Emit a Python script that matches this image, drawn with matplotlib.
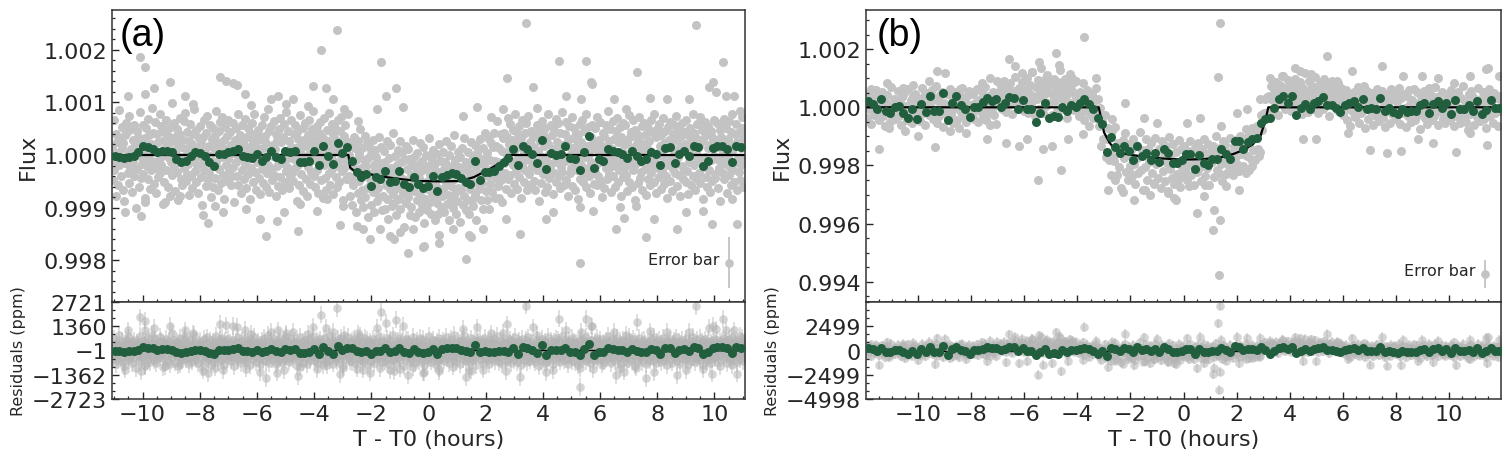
import numpy as np
import matplotlib
matplotlib.use("Agg")
import matplotlib.pyplot as plt
from matplotlib.ticker import MultipleLocator, AutoMinorLocator, FormatStrFormatter, FixedLocator

# ---------------- data (panel a) ----------------
# transit model knots: time (h) and flux offset (ppm)
model_t_a = [-11.2, -2.80, -2.74, -2.6, -2.0, -1.5, -1.0, -0.3, 0.4, 1.1, 1.6, 1.8, 2.2, 2.5, 2.68, 2.74, 11.2]
model_ppm_a = [0, 0, -240, -300, -370, -418, -456, -494, -500, -494, -418, -361, -250, -150, -76, 0, 0]

# binned (10 min) flux offsets in ppm
green_a_ppm = [-10, -44, -63, -44, -10, 51, 177, 146, 114, 51, 82, 82, 51, -76, -139, -108, -10, 51, 38, -10,
               -139, -203, 19, 19, 51, 82, 114, -10, -44, -63, 19, -108, -44, 82, -44, -76, 70, 51, 82, -139,
               -139, -108, 82, -184, 177, -10, -170, 228, 38, 146, -108, -329, -424, -361, -583, -424, -456, -298, -519, -488,
               -298, -551, -614, -424, -551,
               -633, -583, -393, -678, -424, -380, -342, -361, -443, -519, -551, -108, -469, -317, -329, -298, -203, -139, -63, 114,
               -184, 177, 114, 19, -152, 285, -266, 38, 0, 19, 165, -63, -76, -279, 63, 355, -253, -76, -108, 114,
               82, 51, 19, -63, 82, -13, -108, -76, 63, 19, -184, 127, 146, -158, 19, 82, -13, 177, 146, -203,
               -108, 127, 177, 177, 114, -139, 177, 146]
green_a_span = (-10.98, 10.93)

# unbinned residual scatter (list units, see RES_UNIT_A), evenly sampled across the window
RES_UNIT_A = 14  # ppm per list unit
resid_a = [
12,-34,5,47,-21,-8,29,-55,3,18,-40,61,-14,22,-3,-29,38,9,-47,16,-63,27,-11,44,-6,31,-25,2,-38,53,-17,8,35,-50,20,-9,41,-28,14,-72,6,33,-19,25,-44,11,58,-2,-31,19,
-12,40,-26,7,-58,23,-5,36,-15,49,-33,1,27,-46,15,-21,64,-8,30,-39,10,-18,45,-52,4,28,-30,17,-7,55,-24,39,-13,-1,32,-66,21,-36,9,48,-20,13,-43,26,-4,37,-56,18,-10,71,
-27,6,43,-16,24,-49,2,35,-23,14,-61,29,-9,50,-32,11,-40,20,-3,46,-18,57,-35,8,-26,31,-12,-54,19,3,42,-29,15,-45,28,-7,62,-22,10,-37,34,-14,5,-51,23,-2,39,-30,16,-68,
25,-11,48,-20,7,-42,30,-6,53,-34,12,-25,41,-1,-57,22,-15,36,-44,9,27,-31,60,-10,17,-48,4,33,-19,45,-38,13,-3,51,-27,20,-59,8,38,-13,-35,26,-5,47,-22,1,31,-41,14,-28,
44,-16,3,-64,21,36,-9,-29,55,-40,15,-4,27,-52,9,40,-21,18,-33,2,49,-12,-45,24,-7,37,-26,11,-60,30,-17,6,43,-36,19,-2,56,-23,12,-47,28,-10,34,-31,7,-53,22,-6,41,-19,
10,-38,52,-5,26,-43,16,-24,63,-13,32,-50,4,-20,39,-34,14,-1,46,-27,8,-56,29,-15,21,-42,35,-8,50,-30,17,-3,-48,25,-11,42,-37,6,-22,58,-16,33,-4,-45,19,-29,11,47,-25,2,
-35,28,-6,40,-18,9,-62,31,-13,22,-41,5,54,-26,15,-2,37,-49,20,-9,44,-32,12,-55,27,-16,1,48,-39,18,-23,35,-7,60,-28,14,-44,24,-3,39,-20,8,-51,30,-12,45,-34,16,-1,-58,
23,-14,50,-31,6,-47,34,-8,19,-25,57,-40,11,-3,42,-19,28,-53,4,36,-10,-30,21,-44,47,-15,9,-36,32,-5,52,-22,13,-61,26,-18,40,-1,-33,18,-9,55,-27,7,-42,29,-16,38,-48,3,
-20,46,-8,31,-55,15,-3,41,-29,24,-12,59,-37,6,-24,33,-46,17,-1,50,-32,10,-19,43,-58,22,-6,36,-14,28,-41,2,47,-23,13,-50,34,-9,25,-35,5,-17,53,-28,18,-4,40,-45,12,-26,
8,35,-43,20,-11,49,-30,3,-56,27,-16,44,-7,14,-38,61,-21,9,-34,30,-2,-49,18,-13,39,-27,6,52,-40,23,-9,36,-18,1,-64,26,-5,45,-31,15,-23,42,-12,29,-47,7,-36,20,-3,55,
-15,32,-50,11,-4,38,-26,22,-42,4,51,-19,13,-33,27,-8,46,-57,16,-24,35,-1,-39,21,-11,58,-30,9,-45,31,-17,2,43,-22,18,-53,25,-6,37,-29,12,-44,50,-14,5,-35,28,-20,40,-10,
17,-41,26,-2,54,-31,8,-18,35,-52,13,-7,47,-24,21,-37,3,62,-16,29,-45,10,-27,40,-9,19,-56,33,-13,4,44,-34,15,-22,57,-5,24,-42,11,-28,36,-1,-48,20,-15,49,-30,6,-39,27,
-6,43,-25,14,-60,30,-11,37,-20,2,48,-36,19,-14,33,-49,9,-3,52,-27,16,-40,24,-8,41,-54,12,-21,35,-1,-33,28,-10,45,-43,7,26,-17,59,-29,3,-46,21,-12,38,-24,14,-55,31,-4,
36,-19,9,-44,25,-2,50,-33,15,-27,42,-8,-51,20,-13,34,-39,6,56,-22,17,-46,28,-4,39,-30,11,-58,23,-16,47,-9,3,-37,30,-20,44,-48,13,-6,53,-26,18,-41,8,32,-15,-2,26,-35,
11,-47,24,-9,41,-21,5,-62,33,-14,19,-38,46,-3,28,-26,12,-50,37,-7,22,-43,15,55,-31,1,-19,40,-12,27,-53,8,34,-24,-1,49,-36,17,-10,43,-28,6,-45,30,-16,58,-23,13,-4,-40,
29,-8,45,-34,16,-56,21,-2,39,-25,10,-17,51,-42,23,-11,36,-48,4,30,-20,14,-59,27,-6,42,-32,18,-13,48,-37,7,-24,33,-3,55,-44,12,-18,38,-29,1,-52,25,-9,41,-21,16,-39,9,
-23,37,-13,52,-40,7,-29,20,-4,45,-35,14,-57,30,-10,26,-45,3,41,-18,11,-32,59,-26,19,-7,35,-50,8,-15,46,-28,22,-1,-43,32,-12,50,-36,17,-21,4,38,-55,24,-8,43,-30,13,-17,
40,-27,2,-49,18,-12,54,-36,25,-5,31,-44,9,-20,47,-15,34,-61,13,-3,28,-38,21,-10,52,-31,6,-23,39,-47,15,-2,44,-19,27,-54,10,-8,36,-33,19,-41,5,48,-24,-14,30,-6,56,-37,
-9,24,-52,35,-17,3,42,-30,12,-46,27,-1,-22,50,-39,16,-7,33,-28,9,-58,38,-13,21,-35,45,-4,14,-49,29,-19,6,40,-25,-11,53,-42,20,-3,35,-27,11,-56,26,-15,44,-32,8,-20,31,
15,-36,48,-22,7,-53,26,-10,37,-1,-41,19,-28,56,-14,30,-47,4,23,-33,42,-6,-25,12,51,-38,17,-9,34,-59,22,-16,45,-3,-30,28,-44,9,39,-21,14,-50,32,-7,25,-35,18,-2,47,-26,
-31,20,-5,43,-45,11,-18,34,-62,25,-8,40,-24,3,49,-33,14,-12,37,-51,22,-1,-27,46,-16,31,-40,6,55,-20,13,-37,28,-9,42,-48,17,-4,30,-23,60,-34,10,-14,36,-43,21,-6,27,-11]

# isolated points read individually: time (h), flux offset (ppm)
out_t_a = [-10.1, -9.9, -3.75, -3.2, -1.65, -0.73, -5.67, -4.57, 3.4, 9.36, 4.58, 5.5, 10.3, 2.73, 7.3, 1.32, 5.3, 3.2,
           -7.3, -7.1, -6.7, -9.05, -9.6, -10.05, -7.7, -5.3, -3.1, -2.06, -1.2, 3.67, 5.7, 9.96, 10.8, 7.6, 6.57, 8.7,
           0.38, -0.17, 1.5,
           -10.5, -9.9, -8.5, -8.25, -6.85, -6.43, -6.2, -5.5, -5.25, -5.0, -4.75, -4.2, -4.05, -3.57, -3.35, -2.94, -2.47,
           -1.8, -1.48, -1.12, -0.9,
           -10.6, -9.9, -9.2, -8.7, -7.9, -7.45, -7.2, -6.4, -5.9, -5.05, -4.5, -3.9, -3.55, -3.0, -2.5, -2.3, -1.7, -1.36,
           -1.0, -0.55,
           3.8, 4.8, 5.33, 5.73, 6.5, 6.9, 7.73, 8.35, 9.1, 9.8, 10.05, 10.4, 10.7, 10.95, 1.2, 1.7, 2.2, 2.6,
           -0.2, 0.35, 0.85, 1.43, 1.9, 2.7, 4.1, 4.35, 5.3, 5.75, 6.7, 6.85, 7.25, 7.9, 9.0, 9.6, 9.9, 10.6]
out_ppm_a = [1862, 1672, 2000, 2375, 1760, -1862, -1540, -1440, 2508, 2470, 1790, 1790, 1760, 1463, 1576, -1976, -2052, -1501,
             1480, 1410, 1330, 1390, 1270, -1160, -1290, -1250, -1320, -1600, -1600, 1290, 1390, 1380, -1310, -1560, -1400, -1400,
             -1670, -1730, -1560,
             1127, 1159, 1127, 966, 1374, 1159, 950, 1064, 1127, 966, 1064, 938, 1311, 1279, 1064, 874, 652,
             874, 1127, 1279, 906,
             -1083, -895, -895, -770, -1140, -966, -1090, -1026, -1216, -1090, -931, -1060, -836, -966, -1343, -1406, -1406, -1532,
             -1469, -1406,
             893, 1127, 1064, 1349, 1064, 874, 1083, 1064, 1064, 1286, 1190, 1127, 1127, 716, 741, 906, 716, 874,
             -1748, -1520, -1406, -1520, -1406, -1216, -1216, -1089, -995, -1060, -995, -1193, -966, -1216, -1089, -1060, -1311, -836]
err_a_ppm = 484

# ---------------- data (panel b) ----------------
model_t_b = [-12.1, -3.2, -3.1, -3.0, -2.8, -2.6, -2.2, -1.6, -0.8, 0.0, 0.8, 1.4, 1.9, 2.3, 2.6, 2.9, 3.1, 3.2, 12.1]
model_ppm_b = [0, 0, -400, -860, -1200, -1450, -1600, -1690, -1760, -1800, -1780, -1720, -1600, -1450, -1280, -1000, -410, 0, 0]

green_b_ppm = [219, 104, -69, 276, -127, -184, 23, 46, -184, -357, -46, -391, 104, -161, 391, -127, -127, 483, -437, 138,
               391, 69, -69, -322, 23, 23, 184, 334, 207, 276, 23, 161, 368, 322, -69, 253, -69, -46, -495, -184,
               161, -357, -299, -322, 23, -127, 69, 23, 138, 299, 104, -69, -357, -587, -1541, -1012, -1357, -1587, -1334, -1506,
               -1817, -1334, -1679, -1564, -1817, -1587, -1886, -1449, -1587, -1932,
               -1932, -1817, -1622, -1622, -2116, -1656, -1909, -1967, -1794, -1771, -1449, -1622, -1794, -1161, -1161, -1449,
               -1196, -1104, -1047, -529, -414, -357, -12, 299, 391, 161, 391, -276, -12, 104, -46, 161,
               219, 368, 69, 69, -12, -161, 69, 138, 219, 23, 299, -69, -12, -69, 334, -127, -12, -161, -242, -46,
               -161, -127, -127, 69, 161, -184, 104, 219, -12, 138, -242, 253, -69, -69, 69, -127, 219, -242, -100, 253,
               -12, -12]
green_b_span = (-11.9, 11.92)

RES_UNIT_B = 15  # ppm per list unit
resid_b = [
8,-25,31,-4,15,-38,22,6,-17,40,-9,27,-30,12,-2,35,-21,18,-44,9,29,-13,3,-33,46,-7,20,-26,14,-1,37,-19,10,-41,24,-5,33,-15,2,-28,42,-11,16,-36,25,-3,30,-22,11,-8,
19,-31,7,44,-14,26,-40,5,33,-18,13,-2,39,-27,21,-9,48,-35,15,-20,28,-6,36,-45,10,-12,31,-24,4,41,-16,23,-37,17,-1,34,-29,9,-47,27,-10,45,-19,12,-33,25,-4,38,-23,6,
-15,30,-26,11,-3,43,-34,16,-8,35,-21,2,47,-30,19,-12,27,-41,8,-5,36,-18,24,-38,13,35,12,48,-4,30,61,18,-10,42,27,6,55,22,-15,38,14,70,29,-2,45,9,33,57,20,-8,
40,15,68,-12,33,52,7,81,26,-20,47,19,62,-5,35,90,24,-14,51,30,3,73,38,11,56,-18,29,66,14,44,-9,58,21,85,31,-3,49,17,64,27,-25,42,76,10,37,55,-7,28,60,16,
12,-20,35,4,-11,28,-30,17,40,-6,22,-15,9,31,-24,14,-3,45,-9,20,-38,15,-62,8,-21,43,-50,-3,26,-44,11,-70,34,-17,-29,52,-8,-55,19,-36,4,-81,30,-12,47,-41,-2,-58,23,-27,
10,-49,37,-19,-65,25,-6,-40,55,-31,14,-77,3,-24,42,-53,18,-11,-86,33,-36,7,-60,46,-15,-45,21,-4,-68,39,-28,12,-52,29,-9,-74,50,-22,1,-43,35,-57,16,-33,-5,44,-63,24,-18,-38,
31,-26,8,-47,20,-12,42,-35,5,-58,27,-3,-30,38,-19,14,-51,24,-7,45,-40,11,-22,33,-61,17,-9,29,-44,2,50,-28,13,-36,21,-15,-55,36,-6,25,-42,9,-24,40,-33,4,-49,18,-11,30,
-27,12,-45,35,-8,22,-38,3,46,-19,27,-54,10,-31,38,-14,19,-42,6,32,-23,15,-36,41,-2,30,55,8,41,-6,27,68,19,-12,46,33,2,59,24,-18,37,50,11,72,28,-4,44,16,63,21,
35,-8,52,25,10,66,-2,40,18,57,31,-15,45,22,78,7,38,-10,60,29,13,49,-5,34,70,20,-12,43,56,15,36,-3,64,26,9,51,30,-20,47,17,61,4,39,24,-7,55,28,12,44,33,
-18,25,-7,40,-30,14,3,-42,29,-11,36,-23,8,-2,47,-35,19,-14,31,-5,22,-48,11,38,-26,16,-9,33,-40,6,27,-19,43,-3,-31,20,-12,37,-24,9,-45,28,-1,15,-36,41,-16,24,-8,34,
-27,12,-4,45,-38,21,-13,30,-2,-46,25,-20,39,7,-33,16,-9,42,-28,3,35,-17,11,-49,27,-6,38,-24,18,-39,5,44,-14,29,-30,10,-21,47,-3,23,-41,14,-10,36,-26,8,-35,31,-15,19,
4,-29,40,-12,26,-44,9,-20,34,-1,-37,22,-8,48,-25,15,-33,7,-52,30,-16,38,-6,24,-40,12,-23,45,-10,-31,18,2,36,-27,14,-47,28,-5,41,-19,10,-35,32,-14,21,-3,-42,26,-9,17]

out_t_b = [-11.5, -9.36, -5.5, -4.64, -3.74, -6.6, -5.47, -4.8, -9.0, -9.6, -2.84, -2.3, -1.85, -2.2,
           1.36, 1.3, 1.34, 1.1, 1.38, 1.15, 0.5, -0.3, 5.42, 6.37, 7.5, 11.5, 10.3, 7.05, 8.2, 11.45,
           -11.8, -11.2, -10.6, -10.2, -9.3, -8.45, -7.6, -7.3, -7.05, -6.34, -6.1, -5.7, -5.2, -4.7, -4.45, -4.2, -3.8, -3.3,
           -11.1, -10.5, -10.0, -8.8, -8.2, -7.4, -6.7, -6.2, -5.9, -5.3, -4.95, -4.35, -3.8, -3.55,
           -2.7, -1.5, -1.0, 0.13, 0.64, 1.4, 2.0, 2.4, 2.9,
           -2.6, -2.0, -1.45, -1.1, -0.6, -0.37, -0.2, 0.2, 0.77, 0.8, 1.6, 1.65, 2.1, 2.35, 2.6, 2.86,
           3.3, 3.7, 4.2, 4.4, 4.8, 5.8, 6.8, 8.3, 9.0, 9.6, 10.2, 10.8, 11.4, 11.9,
           4.5, 5.0, 6.2, 7.67, 8.84, 9.4, 10.8]
out_ppm_b = [-1449, -1380, -2508, -2139, 2415, 1656, 1563, 1863, 1173, 907, -2829, -2922, -3174, 138,
             2898, 1058, -5760, -4209, -3888, -3519, -3623, -3174, 1748, 1253, 1426, 1368, -1541, -1472, -1506, -1311,
             621, 851, 667, 782, 1253, 621, 851, 1023, 897, 1415, 1173, 1230, 1023, 1449, 851, 1023, 851, 1023,
             -702, -817, -989, -817, -874, -1104, -1219, -1334, -1104, -1449, -1334, -1104, -931, -644,
             -414, -357, -529, -529, -357, -644, -184, -69, 276,
             -2484, -2254, -2829, -2599, -2944, -3116, -2484, -2714, -3059, -2656, -2714, -2254, -2829, -2254, -2024, -1679,
             736, 1081, 1368, 1253, 1138, 897, 736, 1081, 1081, 1023, 851, 1081, 1311, 1081,
             -1104, -1104, -874, -1564, -1104, -1219, -874]
err_b_ppm = 480

# ---------------- style ----------------
GRAY = "#c3c3c3"
GRAY_R = "#b4b4b4"
GREEN = "#215e3d"
TXT = "#262626"
W, H = 1510, 464
S_PT = 42

plt.rcParams.update({
    "font.family": ["DejaVu Sans"],
    "text.color": TXT, "axes.labelcolor": TXT,
    "xtick.color": TXT, "ytick.color": TXT,
    "axes.edgecolor": "#333333", "axes.linewidth": 1.1,
})

fig = plt.figure(figsize=(W / 100, H / 100), dpi=100)


def style(ax, labelbottom):
    ax.tick_params(which="both", direction="in", bottom=True, top=False, left=True, right=False,
                   labelbottom=labelbottom, labelsize=16)
    ax.tick_params(which="major", length=5, width=1)
    ax.tick_params(which="minor", length=2.5, width=0.9)


def panel(left, width, xlim, model_t, model_ppm, green_ppm, green_span, resid, unit, out_t, out_ppm, err_ppm,
          ylim, ymaj, ymin, rlim, rticks, tag, tagx, ey):
    axm = fig.add_axes([left / W, (H - 303) / H, width / W, 292 / H])
    axr = fig.add_axes([left / W, (H - 400) / H, width / W, 97 / H])
    mt = np.array(model_t, float)
    mp = np.array(model_ppm, float)

    # unbinned points
    bt = np.linspace(xlim[0], xlim[1], len(resid))
    bflux = np.interp(bt, mt, mp) + unit * np.array(resid, float)
    gt = np.concatenate([bt, np.array(out_t, float)])
    gflux = np.concatenate([bflux, np.array(out_ppm, float)])
    gres = gflux - np.interp(gt, mt, mp)

    # binned points
    ct = np.linspace(green_span[0], green_span[1], len(green_ppm))
    cflux = np.array(green_ppm, float)
    cres = cflux - np.interp(ct, mt, mp)

    axm.scatter(gt, 1 + gflux * 1e-6, s=S_PT, color=GRAY, lw=0, zorder=1)
    axm.plot(mt, 1 + mp * 1e-6, color="black", lw=1.6, zorder=2)
    axm.scatter(ct, 1 + cflux * 1e-6, s=S_PT, color=GREEN, lw=0, zorder=3)

    axm.set_xlim(*xlim)
    axm.set_ylim(*ylim)
    axm.yaxis.set_major_locator(MultipleLocator(ymaj))
    axm.yaxis.set_minor_locator(MultipleLocator(ymin))
    axm.yaxis.set_major_formatter(FormatStrFormatter("%.3f"))
    axm.xaxis.set_major_locator(MultipleLocator(2))
    axm.xaxis.set_minor_locator(MultipleLocator(0.5))
    style(axm, False)
    axm.set_ylabel("Flux", fontsize=16)

    axm.text(tagx, 0.976, tag, transform=axm.transAxes, fontsize=27, family=["Liberation Sans", "DejaVu Sans"],
             color="black", ha="left", va="top")

    # typical error bar indicator
    efrac = err_ppm * 1e-6 / (ylim[1] - ylim[0])
    axm.errorbar([0.975], [ey], yerr=[efrac], transform=axm.transAxes, fmt="o", ms=6.2,
                 color=GRAY, mec="none", elinewidth=1.3, capsize=0, zorder=4)
    axm.text(0.9605, ey + 0.013, "Error bar", transform=axm.transAxes, fontsize=11.5,
             ha="right", va="center", color=TXT)

    # residuals
    axr.errorbar(gt, gres, yerr=err_ppm, fmt="o", ms=6.2, mfc=GRAY_R, mec="none", ecolor=GRAY_R,
                 elinewidth=1.1, capsize=0, alpha=0.55, zorder=1)
    axr.axhline(0, color="black", lw=1.0, zorder=2)
    axr.scatter(ct, cres, s=S_PT, color=GREEN, lw=0, zorder=3)
    axr.set_xlim(*xlim)
    axr.set_ylim(*rlim)
    axr.yaxis.set_major_locator(FixedLocator(rticks))
    axr.yaxis.set_minor_locator(AutoMinorLocator(3))
    axr.xaxis.set_major_locator(MultipleLocator(2))
    axr.xaxis.set_minor_locator(MultipleLocator(0.5))
    style(axr, True)
    axr.set_ylabel("Residuals (ppm)", fontsize=11.5)
    axr.set_xlabel("T - T0 (hours)", fontsize=16)
    return axm, axr


panel(112, 633, (-11.07, 11.07), model_t_a, model_ppm_a, green_a_ppm, green_a_span, resid_a, RES_UNIT_A,
      out_t_a, out_ppm_a, err_a_ppm, (0.997211, 1.002751), 0.001, 0.0002, (-2723, 2721),
      [-2723, -1362, -1, 1360, 2721], "(a)", 0.0126, 0.134)
panel(866, 635, (-11.98, 11.98), model_t_b, model_ppm_b, green_b_ppm, green_b_span, resid_b, RES_UNIT_B,
      out_t_b, out_ppm_b, err_b_ppm, (0.993305, 1.003346), 0.002, 0.0005, (-4998, 4998),
      [-4998, -2499, 0, 2499], "(b)", 0.017, 0.096)

fig.savefig("out.png", dpi=100)
